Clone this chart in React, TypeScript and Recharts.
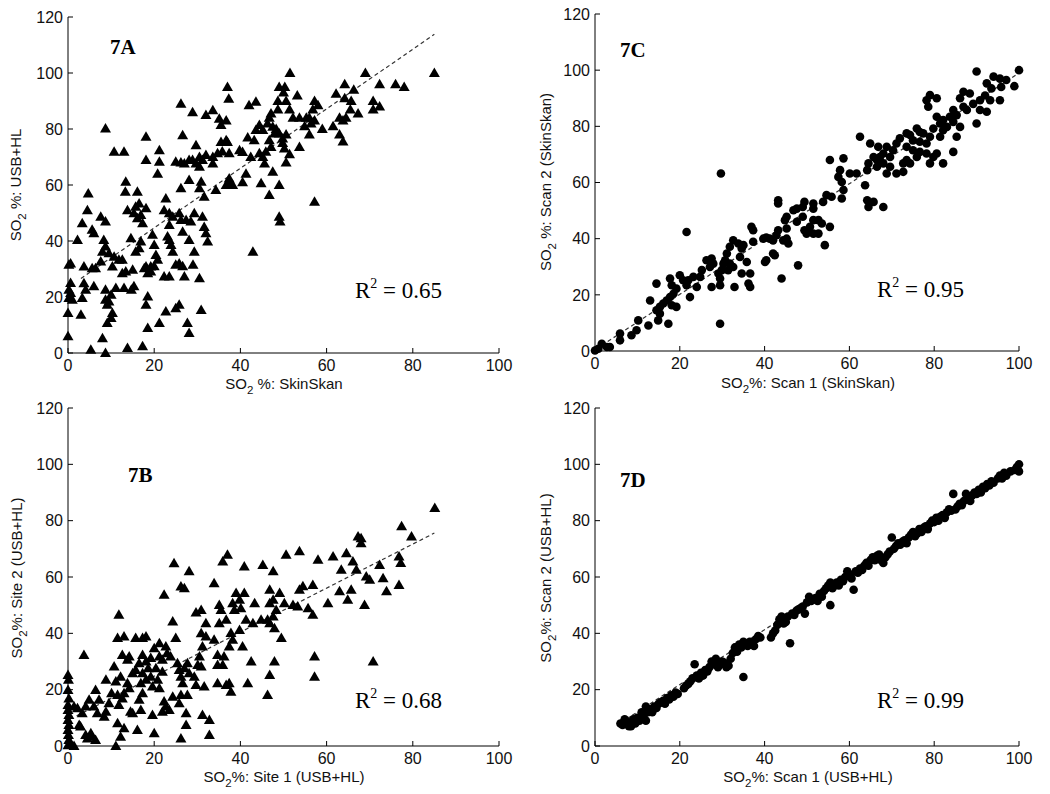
import { ScatterChart, Scatter, XAxis, YAxis, ReferenceLine } from 'recharts'

// panel 7A: SkinSkan vs USB+HL
const pointsA: [number, number][] = [
  [85, 100], [69, 100], [51.5, 100], [76, 96], [78, 95], [72.3, 96], [64.2, 96], [66.3, 94], [64.2, 91], [65.7, 90],
  [62.2, 92.6], [65.5, 87], [67.3, 85.5], [63, 84], [63.8, 83], [61.5, 81], [63, 78], [63.8, 75.5], [64.5, 84], [70.8, 90],
  [70.8, 87], [72.3, 88], [53.2, 92], [53.7, 84], [51.4, 87], [50.3, 95], [49, 95], [50, 93], [48.7, 90], [50.6, 90],
  [48.7, 87], [52.2, 84], [53.7, 73.6], [51.4, 71], [50.6, 68], [49.8, 76.6], [50.6, 78], [49.8, 75], [50.2, 73], [57.2, 90],
  [58, 88.5], [56.8, 87], [56, 84], [57.2, 83], [55.3, 84], [54.9, 81], [56.4, 82], [56, 78], [59, 80], [57.2, 54],
  [47.1, 85.5], [46.7, 84], [46.3, 82], [44.4, 81.4], [43.6, 79.6], [45.2, 79.6], [47.5, 80.8], [48.3, 80], [47.9, 78.4], [49, 78.4],
  [46.7, 76], [47.1, 73.6], [45.9, 71.9], [45.2, 70], [44.4, 71.3], [45.6, 67.7], [47.5, 64.7], [44.8, 60.6], [46.7, 56.4], [49, 60],
  [49, 48.7], [49.2, 47], [42.9, 36.2], [42, 88.5], [43.6, 89.7], [41.7, 77], [43.2, 76], [41.3, 64], [40.5, 61], [39.8, 72.4],
  [40.5, 71.8], [42.4, 70], [37, 95], [37.3, 90.8], [33.6, 86.7], [35.1, 83.7], [36.7, 83], [35.5, 81.4], [36.7, 76], [35.5, 75.4],
  [37, 75.4], [37.4, 71.3], [35.8, 72], [34.7, 71.3], [33.6, 67.7], [32, 70.7], [33.6, 70], [37.4, 62.3], [38.2, 60], [36.7, 60],
  [37.4, 61], [34.3, 58.2], [26.2, 89], [28.9, 86], [32, 85], [26.6, 77.8], [29.7, 74.2], [30.5, 70], [29.7, 67.7], [28.9, 68.9],
  [31.2, 68.9], [28.1, 68.9], [26.2, 68], [25, 68.3], [27, 67.7], [30.5, 66.5], [28.1, 61.8], [30.9, 61.2], [26.2, 58.8], [30.5, 58.8],
  [31.6, 55.8], [21.2, 68.3], [20.8, 64], [21.2, 72.4], [25.8, 49.9], [24.3, 48.7], [26.2, 47.5], [27.4, 47.5], [28.5, 47], [29.3, 49.9],
  [31.2, 48.7], [31.6, 45], [32, 42.8], [32.4, 39.8], [26.6, 43.3], [22.7, 55.2], [22.3, 51], [23.5, 49.9], [23.5, 45.7], [23.1, 41.6],
  [23.9, 38.6], [24.3, 36.2], [28.1, 40.4], [29.3, 36.2], [29, 31.5], [30.5, 26.7], [30.9, 15.4], [25.8, 32], [26.6, 31], [25, 31.5],
  [27, 27.3], [23.5, 27.3], [22.3, 27.3], [23.5, 40.4], [25.8, 17.2], [25, 16], [22.7, 14.8], [27.7, 10.7], [28.1, 7.1], [21.2, 10.7],
  [18.5, 8.9], [18.5, 20.2], [18.1, 17.2], [20.4, 35], [20, 31], [20.8, 33.3], [19.6, 42.2], [20, 38.6], [18.1, 30.9], [19.2, 29.1],
  [18.5, 28.5], [17.7, 30.3], [19.2, 30.9], [18.1, 77.2], [18.1, 68.9], [18.1, 51.7], [16.1, 57.6], [16.5, 53.4], [15.7, 52.2], [16.9, 49.3],
  [16.1, 48.1], [15.3, 49.9], [17.3, 46.3], [16.9, 39.8], [16.5, 37.4], [15.7, 36.2], [15, 29.7], [15.3, 23.8], [14.7, 22.6], [14.6, 41],
  [13.8, 51], [13.4, 61.2], [13.3, 57.6], [13, 71.9], [10.7, 71.9], [8.7, 80.2], [17.3, 2.4], [13.8, 1.8], [8.7, 0], [8, 5.3],
  [5.3, 1.2], [12.6, 33.3], [11.8, 33.3], [13.4, 29.1], [12.6, 28.5], [13, 23.2], [10.7, 34.4], [10.3, 30.9], [11.1, 23.2], [10, 20.8],
  [9.5, 18.4], [8.7, 19], [9.1, 17.2], [10.3, 14.3], [10, 12.5], [9.1, 10.7], [8.7, 22.6], [9.5, 35.6], [8.7, 38], [8.3, 40.4],
  [8.7, 47], [7.6, 48.7], [6, 42.8], [5.6, 44], [4.5, 51], [4.7, 57], [3.3, 46.3], [6.4, 30.3], [5.6, 30.3], [7.6, 32.7],
  [8, 36.2], [3.7, 30.9], [3.7, 24.9], [4.1, 22.6], [3.3, 19.6], [3, 13.7], [2.2, 40.4], [6, 23.8], [0.2, 31.5], [0.6, 32],
  [0.6, 25], [0.2, 22.6], [0.6, 21.4], [0.2, 19.6], [1, 19], [0, 14.3], [0, 6],
]

// panel 7B: site 1 vs site 2
const pointsB: [number, number][] = [
  [85.1, 84.5], [77.4, 78], [79.7, 74.4], [67.3, 74.4], [68, 73.8], [68, 72], [76.8, 67.3], [77.2, 65], [76.8, 57.2], [72.3, 64.3],
  [73.1, 59.6], [73.9, 54.9], [69.2, 60.2], [70, 59], [68.8, 50.1], [70.8, 30], [61.5, 67.3], [64.6, 68.4], [63.4, 62.6], [66.1, 65.5],
  [66.9, 62.6], [63, 54.9], [64.9, 51.9], [65.7, 55.5], [60.3, 50.7], [58, 66.1], [56.8, 57.2], [56.8, 46.6], [57.2, 31.8], [57.2, 24.6],
  [53.7, 69.1], [50.6, 67.9], [53.7, 55.5], [54.5, 56.7], [52.2, 50.1], [53.3, 49.5], [55.7, 48.9], [50.2, 50.7], [49.1, 54.3], [47.6, 51.9],
  [46.8, 55.5], [46.8, 50.7], [48.3, 48.3], [47.6, 46], [46.8, 43.6], [47.9, 41.8], [46.3, 44.8], [49.5, 38.3], [47.9, 30], [46.8, 25.2],
  [46.3, 18.1], [47.6, 62], [45.2, 64.3], [44.8, 44.8], [43.3, 50.7], [42.9, 43.6], [42.5, 30], [41.7, 22.3], [40.9, 63.7], [39, 54.3],
  [40.9, 54.3], [39.8, 51.9], [38.2, 50.7], [38.6, 48.3], [40.1, 48.9], [41.3, 44.8], [39.8, 41.2], [37.8, 40.1], [38.2, 37.7], [37.4, 35.3],
  [40.5, 35.3], [37.4, 22.3], [37.8, 19.3], [36.7, 21.7], [37, 67.9], [35.9, 65.5], [33.9, 57.8], [35.1, 50.1], [35.5, 48.3], [36.7, 44.8],
  [35.1, 43.6], [33.9, 37.7], [34.7, 32.3], [36.2, 31.8], [34.7, 28.8], [35.9, 28.8], [34.7, 22.3], [32.8, 9.2], [32.8, 3.9], [31.2, 11],
  [30.9, 48.3], [29.7, 47.4], [32, 43.6], [30.9, 40], [32, 38.9], [31.2, 35.3], [30.5, 31.8], [30.1, 28.8], [30.9, 28.2], [29.7, 21.7],
  [31.6, 21.1], [28.1, 62], [26.2, 56.6], [27, 56], [24.6, 64.9], [24.3, 44.2], [25, 38.3], [22.3, 53.7], [21.2, 36.5], [22.7, 35.3],
  [23, 32.9], [23.8, 31.8], [21.2, 31.8], [21.9, 30.6], [20, 34.7], [19.2, 31.2], [20.4, 27.6], [18.6, 27.6], [21.9, 26.4], [20.8, 23.5],
  [19.2, 24.6], [19.6, 21.1], [21.2, 20.5], [22.3, 15.8], [22.7, 14], [23.5, 12.8], [21.9, 12.2], [19.6, 11], [20, 4.5], [25.4, 29.4],
  [25.8, 27], [26.2, 24.6], [27, 27.6], [27.7, 29.4], [28.1, 25.8], [29.3, 24.6], [26.6, 22.3], [27.7, 18.1], [26.2, 18.1], [25.8, 15.2],
  [27.4, 11.6], [27.4, 7.5], [26.2, 2.7], [24.3, 17.5], [18.1, 38.9], [17.3, 38.3], [15.7, 38.3], [17.3, 32.3], [18.1, 30], [16.5, 29.4],
  [15.7, 27], [15, 25.8], [17.3, 25.8], [18.1, 23.5], [16.9, 22.3], [17.3, 18.7], [16.5, 16.4], [16.9, 12.8], [16.1, 5.7], [14.2, 31.8],
  [13.8, 30.6], [13.8, 22.3], [14.2, 20.5], [14.5, 12.2], [15, 11.6], [13, 38.9], [11.5, 38.3], [12.6, 32.3], [12.2, 24.6], [13, 18.7],
  [12.6, 16.9], [11.8, 46.6], [10.7, 28.2], [11.1, 22.9], [10.1, 18.7], [11.5, 18.1], [11.8, 14.6], [11.5, 8.1], [13, 6.3], [11.1, 0],
  [12.2, 3.3], [8.8, 23.5], [9.5, 15.2], [8.8, 12.2], [8.4, 10.4], [6.8, 11.6], [6.4, 19.9], [7.2, 16.4], [6, 14], [4.9, 16.4],
  [5.3, 4.5], [5.6, 3.3], [6.4, 2.1], [4.1, 3.9], [4.5, 2.7], [3.7, 32.3], [4.1, 14], [3.3, 11.6], [2.9, 6.9], [2.6, 7.5],
  [0, 25.2], [0.1, 23.5], [0, 19.9], [0.2, 16.9], [0, 14.6], [0, 12.8], [0.2, 11], [0, 9.2], [0.2, 7.5], [0, 5.7],
  [0.1, 3.9], [0.2, 2.1], [0.6, 0.9], [0, 0.3], [1.4, 14], [1.4, 0], [2.2, 13.4],
]

// panel 7C: SkinSkan scan 1 vs scan 2
const pointsC: [number, number][] = [
  [100, 100], [90, 99.5], [94, 97.7], [95.5, 97], [97, 96.5], [95.8, 94], [98.9, 94.3], [92.4, 95.3], [93.5, 93.5], [95.5, 89.3],
  [93.2, 89.3], [92, 91], [86.9, 92.3], [88.4, 91.7], [86.1, 90], [90.8, 89.3], [89.2, 88], [86.9, 87], [87.7, 85.8], [90.8, 85.8],
  [92.4, 85.2], [90, 81], [84.5, 85.8], [85.3, 84], [83.7, 83.4], [82.1, 82.2], [84.5, 81.6], [83, 79.8], [86.1, 79.8], [85.3, 76.3],
  [80.6, 83.4], [81.4, 81], [79.8, 79.2], [79, 76.3], [81.4, 76.3], [82.1, 78.6], [80.6, 90], [79, 91.1], [78.6, 87], [78.2, 89.3],
  [75.9, 79.2], [76.6, 78], [77.4, 77.5], [74.3, 76.9], [73.5, 77.5], [75, 75], [76.6, 74.5], [78.2, 73.9], [73.5, 72.7], [75, 71.5],
  [76.6, 70.9], [78.2, 70.3], [80.6, 70.3], [79.8, 69.1], [79, 66.8], [82.1, 66.8], [84.5, 70.9], [75.9, 69.1], [73.5, 68], [74.3, 66.8],
  [72.7, 66.8], [71.1, 73.9], [71.9, 75.7], [70.3, 71.5], [68.8, 72.7], [68, 70.3], [69.6, 69.1], [67.2, 69.1], [66.5, 68], [68, 66.8],
  [69.6, 65.6], [68.8, 63.2], [71.1, 63.2], [72.7, 63.8], [66.5, 65.6], [65.7, 69.1], [64.9, 73.9], [66.8, 72.7], [62.5, 76.3], [64.5, 66.8],
  [64.2, 64.4], [63.7, 59], [64.2, 53.7], [65.7, 53.1], [64.5, 51.3], [68, 51.3], [60.1, 63.2], [61.7, 63.2], [58.6, 68.6], [57.8, 64.4],
  [58.2, 60.2], [58.6, 57.3], [58.2, 54.3], [57.4, 62], [55.4, 68], [54.6, 55.5], [55.8, 54.9], [53.8, 53.1], [55.4, 44.2], [54.2, 37.7],
  [51.5, 52.5], [51.5, 50.7], [51.5, 46.6], [52.7, 46.6], [53.5, 45.4], [52.7, 41.8], [51.5, 41.8], [50.7, 44.2], [49.9, 41.8], [49.4, 43],
  [49, 47.8], [47.6, 46], [49.4, 53.1], [49, 51.3], [47.6, 50.7], [46.8, 50.1], [45.2, 47.8], [44.8, 46.6], [45.2, 43.6], [45.2, 40],
  [45.6, 38.3], [43.2, 53.7], [43.2, 52.5], [44.4, 39.4], [44, 25.8], [47.9, 30.5], [43.2, 43], [42.8, 41.2], [42, 39.4], [41.2, 40],
  [40.4, 40.4], [39.7, 40], [42, 34.7], [42.4, 34.1], [40.4, 32.3], [40.1, 31.7], [37.3, 38.9], [37.3, 43], [36.9, 44.2], [35, 37.7],
  [34.6, 36.5], [33.8, 38.3], [32.6, 39.4], [34.2, 33.5], [35.8, 31.7], [36.6, 27.6], [36.2, 24], [36.6, 22.8], [34.6, 27.6], [32.9, 22.8],
  [31.8, 37.1], [31.1, 34.7], [30.7, 32.3], [30.3, 31.1], [31.8, 31.1], [32.6, 29.9], [31.4, 28.8], [29.9, 28.8], [29.1, 27.6], [29.5, 25.8],
  [29.5, 23.4], [29.5, 9.7], [29.7, 63.2], [27.9, 31.1], [27.5, 32.9], [26.3, 32.3], [27.1, 29.9], [27.5, 22.8], [25.2, 28.8], [24.8, 26.4],
  [23.2, 26.4], [24, 22.8], [22, 25.2], [21.6, 23.4], [22.4, 19.2], [21.6, 42.4], [20.8, 25.2], [20, 27], [19.2, 22.2], [18.1, 23.4],
  [17.7, 25.8], [18.5, 20.4], [17.7, 19.2], [16.9, 18], [18.1, 16.3], [19.2, 15.7], [16.1, 16.9], [15.3, 15.7], [14.5, 24], [13, 18],
  [15.3, 13.3], [14.9, 10.9], [17.3, 9.7], [12.6, 9.1], [14.5, 14.5], [10.2, 10.9], [9.8, 7.4], [8.6, 5.6], [5.9, 6.2], [5.9, 3.8],
  [2.8, 1.4], [1.6, 2.6], [0.8, 0.8], [3.5, 1.4], [0, 0.2],
]

// panel 7D: USB+HL scan 1 vs scan 2
const pointsD: [number, number][] = [
  [6, 8], [6.5, 7.5], [7, 9.5], [7.5, 8.5], [8, 7], [8.5, 7], [9, 9.5], [9.5, 8], [10, 10], [10.5, 9],
  [11, 12], [11.5, 11], [12, 9], [12, 14], [12.5, 12], [13, 13], [13.5, 12], [14, 14], [14.5, 13.5], [15, 15],
  [15.5, 15.5], [16, 16], [16.5, 15], [17, 17], [17.5, 16.5], [18, 18], [18.5, 17.5], [19, 19], [19.5, 18.5], [21, 20.5],
  [21.5, 21.5], [22, 22], [22.5, 23], [23, 24], [23.5, 29], [24, 25], [24.5, 24], [25, 26], [25.5, 25], [26, 27],
  [26.5, 26.5], [27, 28], [27.5, 30], [28, 29], [28.5, 31], [29, 28], [29.5, 29], [30, 30], [30.5, 29.5], [31, 28],
  [31.5, 28.5], [32, 31], [32.5, 33], [33, 35], [33.5, 33.5], [34, 36], [34.5, 35], [35, 24.5], [35, 37], [35.5, 36.5],
  [36, 35.5], [36.5, 37], [37, 36], [37.5, 35.5], [38, 38], [38.5, 39], [39, 38.5], [41.5, 38.5], [42, 40], [42.5, 41],
  [43, 43], [43.5, 45], [44, 46], [44.5, 43.5], [45, 44], [45.5, 46], [46, 36.5], [46.5, 47], [47, 46.5], [47.5, 48],
  [48, 48.5], [48.5, 49], [49, 49.5], [49.5, 47], [50, 51], [50.5, 53], [51, 51.5], [51.5, 52], [52, 52.5], [52.5, 51.5],
  [53, 54], [53.5, 53], [54, 55], [54.5, 56], [55, 57], [55.5, 58], [55.5, 50], [56, 56], [56.5, 57], [57, 58],
  [57.5, 57], [58, 59], [58.5, 58.5], [59, 60], [59.5, 62], [60, 61], [60.5, 59.5], [61, 55.5], [61.5, 62], [62, 61.5],
  [62.5, 63], [63, 62.5], [63.5, 64], [64, 65], [64.5, 64], [65, 66], [65.5, 67], [66, 66], [66.5, 67.5], [67, 68],
  [67.5, 66], [68, 65], [68.5, 67], [69, 68], [69.5, 69], [70, 74], [70.5, 70], [71, 71], [71.5, 72], [72, 71.5],
  [72.5, 72.5], [73, 73], [73.5, 72], [74, 74], [74.5, 75], [75, 76], [75.5, 74.5], [76, 75.5], [76.5, 77], [77, 76],
  [77.5, 77.5], [78, 78], [78.5, 77], [79, 79], [79.5, 80], [80, 79.5], [80.5, 81], [81, 80], [81.5, 81.5], [82, 82],
  [82.5, 81], [83, 83], [83.5, 84], [84, 83.5], [84.5, 89.5], [85, 84], [85.5, 85], [86, 86], [86.5, 85.5], [87, 87],
  [87.5, 89.5], [88, 88], [88.5, 87], [89, 89], [89.5, 90], [90, 89.5], [90.5, 91], [91, 90], [91.5, 92], [92, 91.5],
  [92.5, 93], [93, 92.5], [93.5, 94], [94, 93.5], [95, 95], [95.5, 96], [96, 95], [96.5, 97], [97, 96], [98, 97.5],
  [99, 98], [99.5, 99], [100, 100], [100, 97.5],
]

// dashed least-squares lines, as [x, y] end points
const fitA: [number, number][] = [[3, 26.6], [85, 113.8]]
const fitB: [number, number][] = [[2, 10.7], [85, 75.6]]
const fitC: [number, number][] = [[3, 3.4], [99.5, 98.5]]
const fitD: [number, number][] = [[6, 8.2], [100, 99.7]]

const xTicks = [0, 20, 40, 60, 80, 100]
const yTicks = [0, 20, 40, 60, 80, 100, 120]

const tickStyle = { fill: '#111', fontSize: 16, fontFamily: '"Liberation Sans", Arial, sans-serif' }

const Triangle = (props: any) => {
  const { cx, cy } = props
  if (cx == null || cy == null) return null
  return <polygon points={`${cx},${cy - 5.5} ${cx - 5.5},${cy + 4} ${cx + 5.5},${cy + 4}`} fill="#000" />
}

const Dot = (props: any) => {
  const { cx, cy } = props
  if (cx == null || cy == null) return null
  return <circle cx={cx} cy={cy} r={4.3} fill="#000" />
}

function Panel({ left, top, width, height, margin, points, fit, marker }: any) {
  const data = points.map(([x, y]: [number, number]) => ({ x, y }))
  return (
    <div style={{ position: 'absolute', left, top }}>
      <ScatterChart width={width} height={height} margin={margin}>
        <XAxis
          type="number"
          dataKey="x"
          domain={[0, 100]}
          ticks={xTicks}
          interval={0}
          height={30}
          stroke="#000"
          tickSize={-5}
          tickMargin={12}
          tick={tickStyle}
        />
        <YAxis
          type="number"
          dataKey="y"
          domain={[0, 120]}
          ticks={yTicks}
          interval={0}
          width={40}
          stroke="#000"
          tickSize={-5}
          tickMargin={10}
          tick={tickStyle}
        />
        <ReferenceLine
          segment={[{ x: fit[0][0], y: fit[0][1] }, { x: fit[1][0], y: fit[1][1] }]}
          stroke="#333"
          strokeWidth={1.2}
          strokeDasharray="4 3"
        />
        <Scatter data={data} shape={marker === 'tri' ? Triangle : Dot} isAnimationActive={false} />
      </ScatterChart>
    </div>
  )
}

const sans = '"Liberation Sans", Arial, sans-serif'
const serif = '"Liberation Serif", "Times New Roman", serif'

function SOLabel({ x, y, pre, rest, rotate }: any) {
  const t = rotate ? `translate(${x},${y}) rotate(-90)` : `translate(${x},${y})`
  return (
    <text transform={t} textAnchor="middle" fontFamily={sans} fontSize={15} fill="#111">
      {pre}
      <tspan dy={5} fontSize={11.5}>2</tspan>
      <tspan dy={-5}>{rest}</tspan>
    </text>
  )
}

function RSquared({ x, y, value }: any) {
  return (
    <text x={x} y={y} fontFamily={serif} fontSize={23} fill="#000">
      R<tspan dy={-10} fontSize={14}>2</tspan>
      <tspan dy={10}>{` = ${value}`}</tspan>
    </text>
  )
}

export default function App() {
  return (
    <div style={{ position: 'absolute', left: 0, top: 0, width: 1050, height: 794, background: '#fff' }}>
      <Panel left={0} top={0} width={520} height={390}
        margin={{ top: 17, right: 21, bottom: 7, left: 28 }} points={pointsA} fit={fitA} marker="tri" />
      <Panel left={520} top={0} width={530} height={390}
        margin={{ top: 14, right: 31, bottom: 9, left: 35 }} points={pointsC} fit={fitC} marker="dot" />
      <Panel left={0} top={390} width={520} height={404}
        margin={{ top: 18, right: 21, bottom: 18, left: 28 }} points={pointsB} fit={fitB} marker="tri" />
      <Panel left={520} top={390} width={530} height={404}
        margin={{ top: 18, right: 31, bottom: 18, left: 35 }} points={pointsD} fit={fitD} marker="dot" />

      <svg width={1050} height={794} style={{ position: 'absolute', left: 0, top: 0, pointerEvents: 'none' }}>
        <text x={110} y={54} fontFamily={serif} fontWeight="bold" fontSize={21} fill="#000">7A</text>
        <text x={620} y={57} fontFamily={serif} fontWeight="bold" fontSize={21} fill="#000">7C</text>
        <text x={128} y={482} fontFamily={serif} fontWeight="bold" fontSize={21} fill="#000">7B</text>
        <text x={620} y={487} fontFamily={serif} fontWeight="bold" fontSize={21} fill="#000">7D</text>

        <RSquared x={355} y={298} value="0.65" />
        <RSquared x={877} y={297} value="0.95" />
        <RSquared x={355} y={708} value="0.68" />
        <RSquared x={877} y={708} value="0.99" />

        <SOLabel x={284} y={389} pre="SO" rest=" %: SkinSkan" />
        <SOLabel x={808} y={388} pre="SO" rest="%: Scan 1 (SkinSkan)" />
        <SOLabel x={284} y={782} pre="SO" rest="%: Site 1 (USB+HL)" />
        <SOLabel x={808} y={782} pre="SO" rest="%: Scan 1 (USB+HL)" />

        <SOLabel x={21} y={185} pre="SO" rest=" %: USB+HL" rotate />
        <SOLabel x={551} y={182} pre="SO" rest=" %: Scan 2 (SkinSkan)" rotate />
        <SOLabel x={22} y={578} pre="SO" rest="%: Site 2 (USB+HL)" rotate />
        <SOLabel x={551} y={578} pre="SO" rest="%: Scan 2 (USB+HL)" rotate />
      </svg>
    </div>
  )
}
